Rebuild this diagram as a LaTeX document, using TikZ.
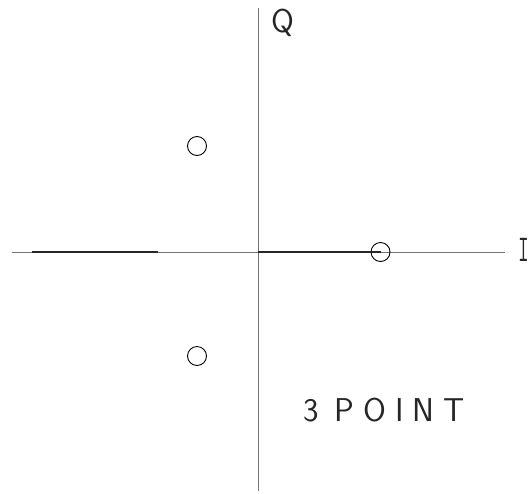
\documentclass[tikz,border=0pt]{standalone}
\begin{document}
\begin{tikzpicture}[x=1pt,y=-1pt,
  axis/.style={draw=black!55,line width=0.9pt},
  seg/.style={draw=black!85,line width=1.3pt},
  pt/.style={circle,draw=black,line width=0.9pt,minimum size=19pt,inner sep=0pt},
  lbl/.style={font=\sffamily\fontsize{33}{33}\selectfont,inner sep=0pt,text=black!85}]
\useasboundingbox (0,0) rectangle (529,493);
\coordinate (xl) at (12,252);
\coordinate (xr) at (505,252);
\coordinate (yt) at (258,8);
\coordinate (yb) at (258,491);
\coordinate (o) at (258,252);
\coordinate (s1) at (32,252);
\coordinate (s2) at (158,252);
\draw[axis] (xl) -- (xr);
\draw[axis] (yt) -- (yb);
\draw[seg] (s1) -- (s2);
\node[pt] (p1) at (380.5,252) {};
\draw[seg] (o) -- (p1.center);
\node[pt] (p2) at (197,146) {};
\node[pt] (p3) at (197,356) {};
\node[lbl,anchor=north west] (q) at (271,9) {Q};
\node[lbl,font=\ttfamily\fontsize{38}{38}\selectfont,anchor=north] (i) at (523.5,238) {\scalebox{0.55}[1]{I}};
\node[lbl,anchor=north west] (t) at (303,398) {3\hspace{16pt}P\hspace{9pt}O\hspace{9pt}I\hspace{9pt}N\hspace{9pt}T};
\end{tikzpicture}
\end{document}
